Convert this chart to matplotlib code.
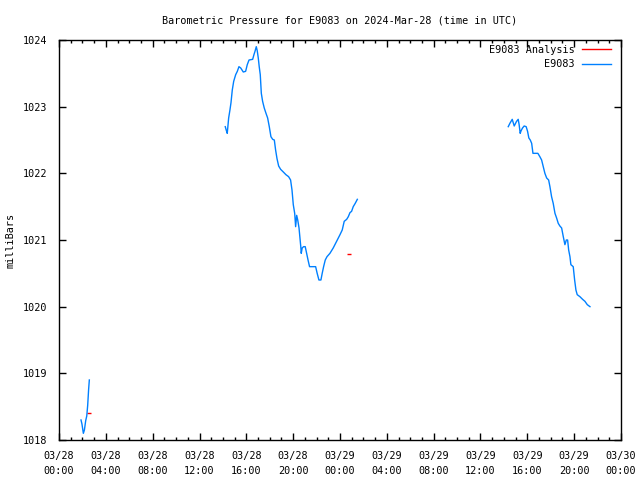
import matplotlib
matplotlib.use("Agg")
import matplotlib.pyplot as plt
from matplotlib.ticker import MultipleLocator
from matplotlib.lines import Line2D

# hours since 2024-03-28 00:00 UTC
obs_hours_1 = [1.88, 1.96, 2.08, 2.17, 2.28, 2.37, 2.45, 2.53, 2.59]
obs_press_1 = [1018.30, 1018.24, 1018.10, 1018.15, 1018.29, 1018.36, 1018.52, 1018.76, 1018.90]

obs_hours_2 = [14.20, 14.28, 14.37, 14.49, 14.60, 14.69, 14.80, 14.92, 15.09, 15.23, 15.37,
               15.52, 15.74, 15.94, 16.08, 16.23, 16.54, 16.65, 16.74, 16.85, 16.93, 17.02,
               17.10, 17.19, 17.28, 17.39, 17.53, 17.68, 17.82, 17.96, 18.10, 18.25, 18.39,
               18.50, 18.62, 18.76, 18.93, 19.16, 19.38, 19.61, 19.78, 19.90, 20.01, 20.13,
               20.21, 20.30, 20.39, 20.50, 20.58, 20.65, 20.69, 20.77, 20.89, 21.03, 21.15,
               21.27, 21.40, 21.92, 22.05, 22.20, 22.37, 22.48, 22.60, 22.74, 22.89, 23.14,
               23.42, 23.71, 24.00, 24.19, 24.36, 24.57, 24.71, 24.85, 24.99, 25.13, 25.30,
               25.48]
obs_press_2 = [1022.70, 1022.65, 1022.60, 1022.83, 1022.95, 1023.06, 1023.25, 1023.38, 1023.48,
               1023.53, 1023.60, 1023.58, 1023.52, 1023.53, 1023.63, 1023.70, 1023.71, 1023.78,
               1023.83, 1023.90, 1023.84, 1023.73, 1023.60, 1023.48, 1023.20, 1023.08, 1022.98,
               1022.90, 1022.83, 1022.70, 1022.55, 1022.51, 1022.50, 1022.35, 1022.22, 1022.11,
               1022.06, 1022.02, 1021.98, 1021.95, 1021.90, 1021.75, 1021.53, 1021.40, 1021.20,
               1021.37, 1021.30, 1021.18, 1021.03, 1020.90, 1020.80, 1020.88, 1020.90, 1020.90,
               1020.80, 1020.70, 1020.60, 1020.60, 1020.50, 1020.40, 1020.40, 1020.50, 1020.60,
               1020.70, 1020.75, 1020.80, 1020.88, 1020.98, 1021.08, 1021.15, 1021.28, 1021.31,
               1021.35, 1021.41, 1021.43, 1021.50, 1021.55, 1021.61]

obs_hours_3 = [38.37, 38.51, 38.71, 38.88, 39.08, 39.22, 39.30, 39.39, 39.47, 39.59, 39.73,
               39.90, 40.02, 40.13, 40.25, 40.37, 40.48, 40.90, 41.07, 41.22, 41.36, 41.50,
               41.65, 41.82, 41.93, 42.07, 42.21, 42.36, 42.50, 42.64, 42.78, 42.93, 43.07,
               43.21, 43.33, 43.44, 43.53, 43.64, 43.72, 43.92, 44.04, 44.15, 44.26, 44.49,
               44.72, 44.92, 45.12, 45.35]
obs_press_3 = [1022.70, 1022.75, 1022.81, 1022.71, 1022.78, 1022.81, 1022.73, 1022.60, 1022.64,
               1022.68, 1022.71, 1022.70, 1022.63, 1022.53, 1022.50, 1022.45, 1022.30, 1022.30,
               1022.25, 1022.20, 1022.10, 1022.00, 1021.93, 1021.90, 1021.80, 1021.65, 1021.55,
               1021.40, 1021.33, 1021.25, 1021.21, 1021.18, 1021.05, 1020.93, 1021.00, 1021.00,
               1020.85, 1020.75, 1020.63, 1020.60, 1020.40, 1020.25, 1020.18, 1020.15, 1020.11,
               1020.08, 1020.03, 1020.00]

ana_hours = [2.59, 24.74]
ana_press = [1018.41, 1020.79]

xtick_hours = list(range(0, 49, 4))
xtick_labels = ["03/28\n%02d:00" % h for h in range(0, 24, 4)] + \
               ["03/29\n%02d:00" % h for h in range(0, 24, 4)] + ["03/30\n00:00"]

plt.rcParams['font.family'] = 'DejaVu Sans Mono'
plt.rcParams['font.size'] = 7.3

fig = plt.figure(figsize=(6.4, 4.8), dpi=100)
ax = fig.add_axes([59/640, 40/480, 562/640, 400/480])

red = '#ff0000'
blue = '#0080ff'
ax.plot(ana_hours, ana_press, linestyle='none', marker='_', markersize=3,
        markeredgewidth=1, color=red)
ax.plot(obs_hours_1, obs_press_1, color=blue, lw=1)
ax.plot(obs_hours_2, obs_press_2, color=blue, lw=1)
ax.plot(obs_hours_3, obs_press_3, color=blue, lw=1)

ax.set_xlim(0, 48)
ax.set_ylim(1018, 1024)
ax.set_xticks(xtick_hours)
ax.set_xticklabels(xtick_labels, linespacing=1.6)
ax.xaxis.set_minor_locator(MultipleLocator(1))
ax.set_yticks(range(1018, 1025))
ax.tick_params(which='both', direction='in', top=True, right=True, width=1, color='black')
ax.tick_params(which='major', length=5)
ax.tick_params(which='minor', length=2.5)
ax.tick_params(axis='x', which='major', pad=8)
ax.tick_params(axis='y', which='major', pad=8.5)
for s in ax.spines.values():
    s.set_linewidth(1)

ax.set_ylabel('milliBars')
ax.yaxis.set_label_coords(-0.078, 0.5)
ax.set_title('Barometric Pressure for E9083 on 2024-Mar-28 (time in UTC)',
             fontsize=7.3, pad=12)

handles = [Line2D([], [], color=red, lw=1), Line2D([], [], color=blue, lw=1)]
ax.legend(handles, ['E9083 Analysis', 'E9083'], loc='upper right',
          bbox_to_anchor=(611/640, 1 - 45/480), bbox_transform=fig.transFigure,
          frameon=False, markerfirst=False, handlelength=2.9, borderpad=0,
          labelspacing=0.4, handletextpad=0.7, borderaxespad=0)

fig.savefig('out.png', dpi=100)
